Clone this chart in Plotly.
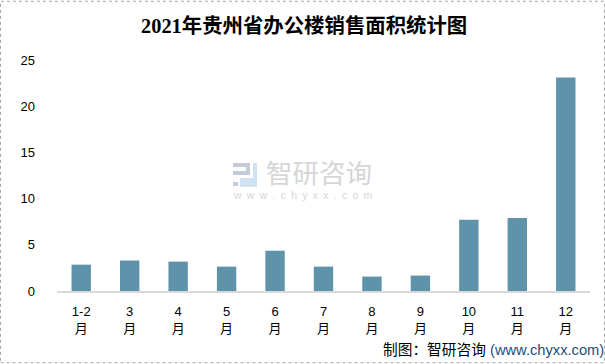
import plotly.graph_objects as go

months = ["1-2<br>月", "3<br>月", "4<br>月", "5<br>月", "6<br>月", "7<br>月", "8<br>月", "9<br>月", "10<br>月", "11<br>月", "12<br>月"]
area = [2.85, 3.3, 3.18, 2.64, 4.36, 2.64, 1.56, 1.67, 7.7, 7.9, 23.1]
y_ticks = [0, 5, 10, 15, 20, 25]
title_text = "2021年贵州省办公楼销售面积统计图"
source_cn = "制图：智研咨询"
source_url = "(www.chyxx.com)"

W, H = 605, 364
L, R, T, B = 57, 15, 59.5, 72.5
SANS = "Liberation Sans, Noto Sans CJK SC, sans-serif"

def px(x): return (x - L) / (W - L - R)
def py(y): return 1 - (y - T) / (H - T - B)

fig = go.Figure(go.Bar(x=months, y=area, marker=dict(color="#5F93AA", line=dict(width=0)), width=0.4, hoverinfo="skip"))

GRAY, BLUE = "#C3CAD9", "#CFE3F2"
logo = [(233, 163, 250, 167, GRAY), (246, 163, 250, 175, GRAY), (233, 171, 250, 175, GRAY),
        (233, 182, 238, 186, GRAY),
        (253, 163, 257, 183, BLUE), (240, 178, 257, 183, BLUE), (240, 178, 244, 187, BLUE), (240, 183, 257, 187, BLUE)]
shapes = [dict(type="rect", xref="paper", yref="paper", x0=px(a), y0=py(d), x1=px(c), y1=py(b),
               fillcolor=col, line=dict(width=0), layer="above") for a, b, c, d, col in logo]
shapes.append(dict(type="rect", xref="paper", yref="paper", x0=px(0.5), y0=py(H - 0.5), x1=px(W - 0.5), y1=py(0.5),
                   line=dict(color="#A6A6A6", width=1, dash="dot"), fillcolor="rgba(0,0,0,0)"))

def note(text, x, y, anchor, family, size, color):
    return dict(text=text, xref="paper", yref="paper", x=px(x), y=py(y), xanchor=anchor, yanchor="middle",
                showarrow=False, font=dict(family=family, size=size, color=color))

fig.update_layout(
    width=W, height=H, autosize=False,
    margin=dict(l=L, r=R, t=T, b=B, pad=0),
    paper_bgcolor="white", plot_bgcolor="white", showlegend=False,
    shapes=shapes,
    annotations=[
        note("<b>" + title_text + "</b>", 304, 24.5, "center", "Liberation Serif, Noto Sans CJK SC, serif", 20.4, "#000000"),
        note("智研咨询", 318.5, 174, "center", SANS, 26.5, "#D6D6D6"),
        note("w\u2002w\u2002w\u2002.\u2002c\u2002h\u2002y\u2002x\u2002x\u2002.\u2002c\u2002o\u2002m", 302.5, 195.5, "center", SANS, 10.5, "#D6D6D6"),
        note(source_cn, 488, 350.5, "right", SANS, 14.7, "#000000"),
        note(source_url, 487.5, 350.5, "left", SANS, 14.7, "#1F4E79"),
    ],
    xaxis=dict(type="category", tickfont=dict(family=SANS, size=13, color="#000000"), ticks="", ticklen=0,
               showline=True, linecolor="#D9D9D9", linewidth=2, showgrid=False, zeroline=False, ticklabelstandoff=7),
    yaxis=dict(range=[0, 25], tickvals=y_ticks, tickfont=dict(family=SANS, size=13, color="#000000"), ticks="",
               showgrid=False, zeroline=False, showline=False, ticklabelstandoff=21),
)
fig.write_html("out.html", config=dict(displayModeBar=False),
               post_script="document.body.style.margin='0';document.body.style.overflow='hidden';")
